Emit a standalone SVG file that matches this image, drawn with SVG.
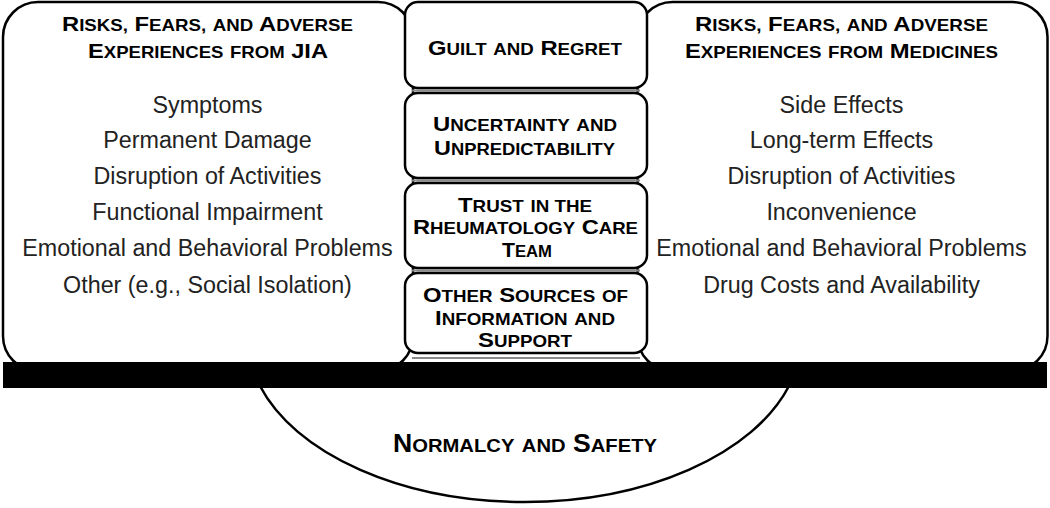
<svg xmlns="http://www.w3.org/2000/svg" width="1050" height="508" viewBox="0 0 1050 508">
<style>
.box{fill:#fff;stroke:#000;stroke-width:2.5}
.gap{stroke:#8a8a8a;stroke-width:2;fill:none}
.t{font-family:"Liberation Sans",Arial,sans-serif;font-weight:bold;font-size:21px;fill:#000;text-anchor:middle}
.m{font-family:"Liberation Sans",Arial,sans-serif;font-weight:bold;font-size:21px;fill:#000;text-anchor:middle}
.n{font-family:"Liberation Sans",Arial,sans-serif;font-weight:bold;font-size:25px;fill:#000;text-anchor:middle}
.s{font-size:16.5px}
.ns{font-size:19px}
.b{font-family:"Liberation Sans",Arial,sans-serif;font-size:23.3px;fill:#222;text-anchor:middle}
</style>
<rect width="1050" height="508" fill="#fff"/>
<g id="normalcy">
<path d="M260,386 A277,165 0 0 0 789,386" fill="#fff" stroke="#000" stroke-width="2.5"/>
<text class="n" x="525" y="452" textLength="264" lengthAdjust="spacingAndGlyphs">N<tspan class="ns">ORMALCY</tspan> <tspan class="ns">AND</tspan> S<tspan class="ns">AFETY</tspan></text>
</g>
<g id="jia">
<rect class="box" x="3" y="2" width="410" height="369" rx="35" ry="35"/>
<text class="t" x="207.5" y="31" textLength="291" lengthAdjust="spacingAndGlyphs">R<tspan class="s">ISKS,</tspan> F<tspan class="s">EARS,</tspan> <tspan class="s">AND</tspan> A<tspan class="s">DVERSE</tspan></text>
<text class="t" x="208" y="58.3" textLength="240" lengthAdjust="spacingAndGlyphs">E<tspan class="s">XPERIENCES</tspan> <tspan class="s">FROM</tspan> JIA</text>
<text class="b" x="207.5" y="112.7">Symptoms</text>
<text class="b" x="207.5" y="148.3">Permanent Damage</text>
<text class="b" x="207.5" y="184.3">Disruption of Activities</text>
<text class="b" x="207.5" y="220">Functional Impairment</text>
<text class="b" x="207.5" y="256">Emotional and Behavioral Problems</text>
<text class="b" x="207.5" y="292.7">Other (e.g., Social Isolation)</text>
</g>
<g id="medicines">
<rect class="box" x="637.5" y="2" width="410" height="369" rx="35" ry="35"/>
<text class="t" x="841.5" y="31" textLength="293" lengthAdjust="spacingAndGlyphs">R<tspan class="s">ISKS,</tspan> F<tspan class="s">EARS,</tspan> <tspan class="s">AND</tspan> A<tspan class="s">DVERSE</tspan></text>
<text class="t" x="841.5" y="58.3" textLength="313" lengthAdjust="spacingAndGlyphs">E<tspan class="s">XPERIENCES</tspan> <tspan class="s">FROM</tspan> M<tspan class="s">EDICINES</tspan></text>
<text class="b" x="841.5" y="112.7">Side Effects</text>
<text class="b" x="841.5" y="148.3">Long-term Effects</text>
<text class="b" x="841.5" y="184.3">Disruption of Activities</text>
<text class="b" x="841.5" y="220">Inconvenience</text>
<text class="b" x="841.5" y="256">Emotional and Behavioral Problems</text>
<text class="b" x="841.5" y="292.7">Drug Costs and Availability</text>
</g>
<g id="gaps">
<line class="gap" x1="412" y1="90.5" x2="640" y2="90.5"/>
<line class="gap" x1="412" y1="180.5" x2="640" y2="180.5"/>
<line class="gap" x1="412" y1="270.5" x2="640" y2="270.5"/>
<line class="gap" x1="412" y1="358" x2="640" y2="358"/>
</g>
<g id="guilt">
<rect class="box" x="405" y="2" width="242" height="86" rx="13" ry="13"/>
<text class="m" x="525" y="54.5" textLength="194" lengthAdjust="spacingAndGlyphs">G<tspan class="s">UILT</tspan> <tspan class="s">AND</tspan> R<tspan class="s">EGRET</tspan></text>
</g>
<g id="uncertainty">
<rect class="box" x="405" y="93" width="242" height="85" rx="13" ry="13"/>
<text class="m" x="525" y="130.5" textLength="184" lengthAdjust="spacingAndGlyphs">U<tspan class="s">NCERTAINTY</tspan> <tspan class="s">AND</tspan></text>
<text class="m" x="524.5" y="155" textLength="181" lengthAdjust="spacingAndGlyphs">U<tspan class="s">NPREDICTABILITY</tspan></text>
</g>
<g id="trust">
<rect class="box" x="405" y="183" width="242" height="85" rx="13" ry="13"/>
<text class="m" x="525" y="211.7" textLength="134" lengthAdjust="spacingAndGlyphs">T<tspan class="s">RUST</tspan> <tspan class="s">IN THE</tspan></text>
<text class="m" x="525.5" y="234.3" textLength="225" lengthAdjust="spacingAndGlyphs">R<tspan class="s">HEUMATOLOGY</tspan> C<tspan class="s">ARE</tspan></text>
<text class="m" x="527" y="256.7" textLength="50" lengthAdjust="spacingAndGlyphs">T<tspan class="s">EAM</tspan></text>
</g>
<g id="other">
<rect class="box" x="405" y="273" width="242" height="80" rx="13" ry="13"/>
<text class="m" x="525.5" y="301.7" textLength="205" lengthAdjust="spacingAndGlyphs">O<tspan class="s">THER</tspan> S<tspan class="s">OURCES</tspan> <tspan class="s">OF</tspan></text>
<text class="m" x="525" y="325" textLength="180" lengthAdjust="spacingAndGlyphs">I<tspan class="s">NFORMATION</tspan> <tspan class="s">AND</tspan></text>
<text class="m" x="525" y="346.7" textLength="94" lengthAdjust="spacingAndGlyphs">S<tspan class="s">UPPORT</tspan></text>
</g>
<g id="bar">
<rect x="3" y="362" width="1044" height="26" fill="#000"/>
</g>
</svg>
